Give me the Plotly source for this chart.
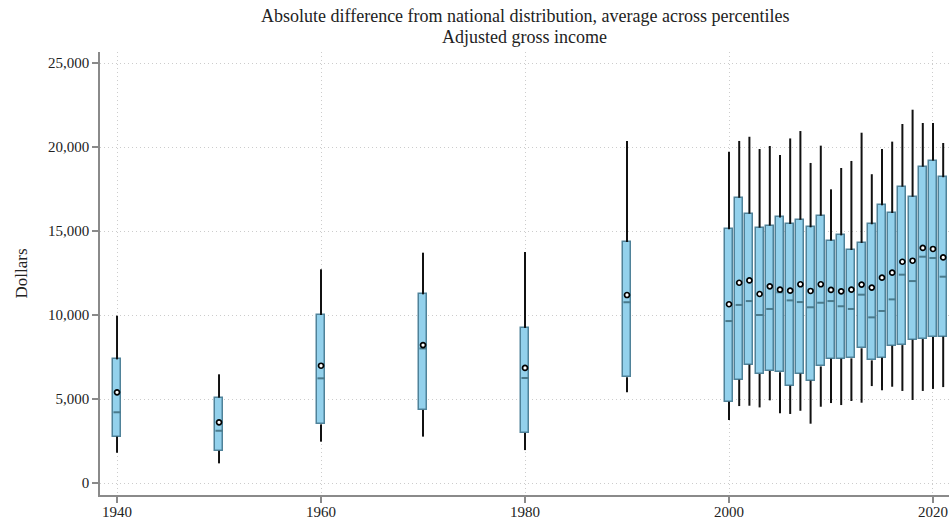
import plotly.graph_objects as go

# Distribution of absolute differences by year (dollars)
years = [1940, 1950, 1960, 1970, 1980, 1990] + list(range(2000, 2022))

whisker_low = [1800, 1170, 2460, 2760, 1960, 5400,
               3750, 4580, 4600, 4500, 4920, 4150, 4110, 4300, 3530, 4540, 4760,
               4640, 4880, 4780, 5770, 5520, 5730, 5480, 4940, 5480, 5600, 5710]
q1 = [2760, 1920, 3490, 4350, 2980, 6290,
      4840, 6150, 7040, 6490, 6670, 6590, 5790, 6510, 6090, 6940, 7400,
      7400, 7420, 8020, 7300, 7460, 8170, 8210, 8530, 8570, 8690, 8710]
median = [4210, 3110, 6230, 8010, 6250, 10760,
          9640, 10600, 10830, 10000, 10360, 11350, 10870, 10770, 10460, 10730, 10830,
          10520, 10360, 11210, 9860, 10240, 10930, 12400, 12020, 13470, 13390, 12280]
q3 = [7360, 5080, 10000, 11230, 9230, 14350,
      15100, 16980, 16030, 15200, 15320, 15810, 15420, 15670, 15220, 15910, 14430,
      14740, 13870, 14290, 15400, 16530, 16070, 17640, 17040, 18830, 19190, 18200]
whisker_high = [9960, 6470, 12720, 13710, 13750, 20360,
                19720, 20360, 20610, 19880, 20060, 19520, 20510, 20950, 19050, 20080, 17480,
                18750, 19170, 20850, 18380, 19880, 20320, 21370, 22220, 21430, 21430, 20240]
mean = [5400, 3610, 6980, 8210, 6850, 11190,
        10640, 11920, 12060, 11250, 11710, 11510, 11450, 11830, 11430, 11830, 11490,
        11410, 11510, 11810, 11630, 12220, 12520, 13170, 13230, 13990, 13930, 13430]

x_ticks = [1940, 1960, 1980, 2000, 2020]
y_ticks = [0, 5000, 10000, 15000, 20000, 25000]

title_lines = ["Absolute difference from national distribution, average across percentiles",
               "Adjusted gross income"]

BOX_W = 0.8
FILL = "#93d1ec"
EDGE = "#4f8299"
MED = "#4a7a8c"
FONT = "Liberation Serif"
TEXT = "#222222"

# whisker segments, drawn beneath the boxes
wx, wy = [], []
for yr, lo, a, b, hi in zip(years, whisker_low, q1, q3, whisker_high):
    wx += [yr, yr, None, yr, yr, None]
    wy += [lo, a, None, b, hi, None]

# median segments across each box
mx, my = [], []
for yr, m in zip(years, median):
    mx += [yr - BOX_W / 2 + 0.05, yr + BOX_W / 2 - 0.05, None]
    my += [m, m, None]

fig = go.Figure()
fig.add_trace(go.Scatter(x=wx, y=wy, mode="lines",
                         line=dict(color="#111111", width=2), hoverinfo="skip",
                         showlegend=False))
fig.add_trace(go.Bar(x=years, y=[b - a for a, b in zip(q1, q3)], base=q1,
                     width=BOX_W,
                     marker=dict(color=FILL, line=dict(color=EDGE, width=1.5)),
                     showlegend=False))
fig.add_trace(go.Scatter(x=mx, y=my, mode="lines",
                         line=dict(color=MED, width=2), hoverinfo="skip",
                         showlegend=False))
fig.add_trace(go.Scatter(x=years, y=mean, mode="markers",
                         marker=dict(symbol="circle", size=5, color="white",
                                     line=dict(color="#000000", width=1.7)),
                         showlegend=False))

axis_common = dict(
    showline=True, linecolor="#8a8a8a", linewidth=1.5,
    ticks="outside", ticklen=6, tickcolor="#8a8a8a", tickwidth=1.5,
    showgrid=True, gridcolor="#cccccc", griddash="1px,3px", gridwidth=1,
    zeroline=False, tickfont=dict(family=FONT, size=15, color=TEXT),
)

# two-line heading above the plot area
for line, ypos in zip(title_lines, [1.0813, 1.0339]):
    fig.add_annotation(text=line, xref="paper", yref="paper", x=0.5, y=ypos,
                       xanchor="center", yanchor="middle", showarrow=False,
                       font=dict(family=FONT, size=18, color=TEXT))

fig.update_layout(
    width=949, height=525,
    margin=dict(l=100, r=0, t=52, b=30),
    paper_bgcolor="white", plot_bgcolor="white",
    font=dict(family=FONT, color=TEXT),
    xaxis=dict(range=[1938.33, 2021.57], tickvals=x_ticks, ticklabelstandoff=-4,
               **axis_common),
    yaxis=dict(range=[-714, 25655], tickvals=y_ticks, tickformat=",",
               title=dict(text="Dollars", standoff=16,
                          font=dict(family=FONT, size=17, color=TEXT)),
               **axis_common),
    bargap=0,
)

fig.write_html("out.html")
